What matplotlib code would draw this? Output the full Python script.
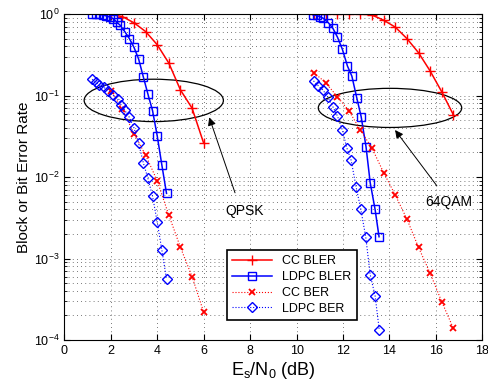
import numpy as np
import matplotlib
matplotlib.use("Agg")
import matplotlib.pyplot as plt
from matplotlib.patches import Ellipse

plt.rcParams['font.family'] = ['Liberation Sans', 'DejaVu Sans']
plt.rcParams['mathtext.fontset'] = 'custom'
plt.rcParams['mathtext.rm'] = 'Liberation Sans'
plt.rcParams['mathtext.it'] = 'Liberation Sans'
plt.rcParams['mathtext.default'] = 'rm'

# ---- QPSK ----
qpsk_cc_bler_x = [2.0, 2.5, 3.0, 3.5, 4.0, 4.5, 5.0, 5.5, 6.0]
qpsk_cc_bler_y = [0.99, 0.93, 0.78, 0.61, 0.42, 0.25, 0.117, 0.070, 0.026]

qpsk_ldpc_bler_x = [1.2, 1.35, 1.5, 1.65, 1.8, 1.95, 2.1, 2.25, 2.4, 2.6,
                    2.8, 3.0, 3.2, 3.4, 3.6, 3.8, 4.0, 4.2, 4.4]
qpsk_ldpc_bler_y = [1.0, 0.995, 0.99, 0.97, 0.95, 0.92, 0.88, 0.80, 0.73, 0.61,
                    0.50, 0.39, 0.28, 0.17, 0.104, 0.065, 0.032, 0.014, 0.0063]

qpsk_cc_ber_x = [2.0, 2.5, 3.0, 3.5, 4.0, 4.5, 5.0, 5.5, 6.0]
qpsk_cc_ber_y = [0.115, 0.068, 0.034, 0.0186, 0.009, 0.0034, 0.00137, 0.0006, 0.00022]

qpsk_ldpc_ber_x = [1.2, 1.35, 1.5, 1.7, 1.9, 2.1, 2.3, 2.45, 2.6, 2.8,
                   3.0, 3.2, 3.4, 3.6, 3.8, 4.0, 4.2, 4.4]
qpsk_ldpc_ber_y = [0.158, 0.147, 0.135, 0.126, 0.115, 0.101, 0.090, 0.076, 0.066, 0.054,
                   0.040, 0.026, 0.015, 0.0096, 0.0058, 0.0028, 0.00127, 0.00056]

# ---- 64QAM ----
qam_cc_bler_x = [10.75, 11.25, 11.75, 12.25, 12.75, 13.25, 13.75, 14.25,
                 14.75, 15.25, 15.75, 16.25, 16.75]
qam_cc_bler_y = [1.0, 1.0, 1.0, 1.0, 1.0, 0.97, 0.84, 0.69,
                 0.50, 0.335, 0.20, 0.111, 0.058]

qam_ldpc_bler_x = [10.7, 10.87, 11.0, 11.15, 11.37, 11.56, 11.76, 11.97,
                   12.19, 12.38, 12.59, 12.78, 12.99, 13.17, 13.38, 13.55]
qam_ldpc_bler_y = [0.98, 0.96, 0.93, 0.885, 0.78, 0.67, 0.52, 0.37,
                   0.23, 0.173, 0.094, 0.055, 0.0235, 0.0085, 0.0040, 0.00185]

qam_cc_ber_x = [10.75, 11.25, 11.75, 12.25, 12.75, 13.25, 13.75, 14.25,
                14.75, 15.25, 15.75, 16.25, 16.75]
qam_cc_ber_y = [0.19, 0.144, 0.097, 0.065, 0.0377, 0.0225, 0.0113, 0.0060,
                0.00305, 0.00137, 0.00066, 0.000295, 0.000139]

qam_ldpc_ber_x = [10.73, 10.94, 11.13, 11.34, 11.56, 11.76, 11.97, 12.16,
                  12.35, 12.56, 12.76, 12.98, 13.17, 13.38, 13.56]
qam_ldpc_ber_y = [0.151, 0.131, 0.117, 0.0966, 0.073, 0.056, 0.0377, 0.0229,
                  0.016, 0.0076, 0.0041, 0.00182, 0.00063, 0.00035, 0.000133]

fig = plt.figure(figsize=(4.89, 3.87), dpi=100)
ax = fig.add_axes([0.1315, 0.1214, 0.855, 0.8424])

cc_bler = dict(color='r', ls='-', lw=1.1, marker='+', ms=7, mew=1.0)
ldpc_bler = dict(color='b', ls='-', lw=1.1, marker='s', ms=5.8, mew=1.0, mfc='none')
cc_ber = dict(color='r', ls=':', lw=0.8, marker='x', ms=4, mew=1.3)
ldpc_ber = dict(color='b', ls=':', lw=0.8, marker='D', ms=5.5, mew=1.0, mfc='none')

ax.semilogy(qpsk_cc_bler_x, qpsk_cc_bler_y, label='CC BLER', **cc_bler)
ax.semilogy(qpsk_ldpc_bler_x, qpsk_ldpc_bler_y, label='LDPC BLER', **ldpc_bler)
ax.semilogy(qpsk_cc_ber_x, qpsk_cc_ber_y, label='CC BER', **cc_ber)
ax.semilogy(qpsk_ldpc_ber_x, qpsk_ldpc_ber_y, label='LDPC BER', **ldpc_ber)

ax.semilogy(qam_cc_bler_x, qam_cc_bler_y, **cc_bler)
ax.semilogy(qam_ldpc_bler_x, qam_ldpc_bler_y, **ldpc_bler)
ax.semilogy(qam_cc_ber_x, qam_cc_ber_y, **cc_ber)
ax.semilogy(qam_ldpc_ber_x, qam_ldpc_ber_y, **ldpc_ber)

ax.set_xlim(0, 18)
ax.set_ylim(1e-4, 1)
ax.set_xticks(np.arange(0, 19, 2))
grid_style = dict(ls=(0, (1, 4)), color='0.3', lw=0.6)
ax.grid(True, which='major', **grid_style)
ax.grid(True, which='minor', axis='y', **grid_style)
ax.set_axisbelow(True)
ax.tick_params(which='both', direction='in', top=True, right=True, labelsize=9)
ax.tick_params(which='major', length=4)
ax.tick_params(which='minor', length=2)

ax.set_xlabel(r'$\mathrm{E_s/N_0}$ (dB)', fontsize=13, labelpad=2)
ax.set_ylabel('Block or Bit Error Rate', fontsize=11, labelpad=2)

# ellipses around the curves
ax.add_patch(Ellipse((0.214, 0.735), 0.333, 0.130, transform=ax.transAxes,
                     fill=False, ec='k', lw=0.9))
ax.add_patch(Ellipse((0.779, 0.712), 0.343, 0.120, transform=ax.transAxes,
                     fill=False, ec='k', lw=0.9))

arrow = dict(arrowstyle='-|>', color='k', lw=0.7, mutation_scale=12, shrinkA=0, shrinkB=0)
ax.annotate('', xy=(6.24, 0.054), xytext=(7.35, 0.0064), arrowprops=arrow)
ax.text(7.78, 0.0038, 'QPSK', fontsize=10, ha='center', va='center')
ax.annotate('', xy=(14.24, 0.0377), xytext=(16.04, 0.0078), arrowprops=arrow)
ax.text(16.57, 0.0049, '64QAM', fontsize=10, ha='center', va='center')

leg = ax.legend(loc='lower left', bbox_to_anchor=(0.375, 0.043), fontsize=9,
                fancybox=False, framealpha=1, edgecolor='k', borderpad=0.4,
                handlelength=3.2, labelspacing=0.3)
leg.get_frame().set_linewidth(1.2)

fig.savefig('out.png', dpi=100)
